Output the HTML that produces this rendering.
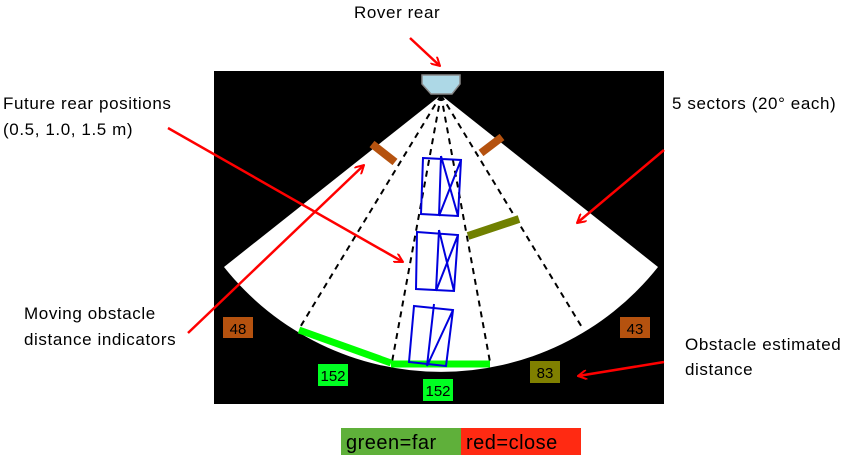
<!DOCTYPE html>
<html><head><style>
body{margin:0;background:#fff;}
svg{display:block;}
text{font-family:"Liberation Sans",sans-serif;font-size:17px;letter-spacing:0.6px;fill:#000;}
</style></head><body>
<svg width="855" height="467" viewBox="0 0 855 467">
<defs>
<marker id="ah" markerWidth="10" markerHeight="10" refX="9" refY="5" orient="auto" markerUnits="userSpaceOnUse">
<path d="M0,0 L9,5 L0,10" fill="none" stroke="#f00" stroke-width="2"/>
</marker>
</defs>
<rect x="214" y="71" width="450" height="333" fill="#000"/>
<path d="M441,95 L224,267 A277,277 0 0 0 658,267 Z" fill="#fff"/>
<g stroke="#000" stroke-width="2" stroke-dasharray="6,5" fill="none">
<line x1="441" y1="95" x2="299" y2="329"/>
<line x1="441" y1="95" x2="392" y2="362"/>
<line x1="441" y1="95" x2="490" y2="362"/>
<line x1="441" y1="95" x2="583" y2="329"/>
</g>
<path d="M422,75 L460,75 L460,84 L452,94 L431,94 L422,84 Z" fill="#add8e6" stroke="#888" stroke-width="1.5"/>
<line x1="299" y1="330" x2="391" y2="363" stroke="#00ff00" stroke-width="7"/>
<line x1="391" y1="364" x2="490" y2="364" stroke="#00ff00" stroke-width="7"/>
<line x1="372" y1="144" x2="395" y2="162" stroke="#b5520f" stroke-width="8"/>
<line x1="481" y1="153" x2="502" y2="137" stroke="#b5520f" stroke-width="8"/>
<line x1="468" y1="236" x2="519" y2="219" stroke="#708000" stroke-width="8"/>
<g stroke="#0000dd" stroke-width="2" fill="none">
<path d="M423,158 L461,160 L458,216 L421,214 Z M441,156 L439,216 M461,160 L439,216 M441,156 L458,216"/>
<path d="M417,232 L458,235 L454,291 L416,289 Z M439,230 L436,291 M458,235 L436,291 M439,230 L454,291"/>
<path d="M414,306 L453,310 L446,366 L409,362 Z M434,304 L427,366 M453,310 L427,366"/>
</g>
<g style="font-size:15px;letter-spacing:0">
<rect x="223" y="317" width="30" height="21" fill="#b5520f"/><text x="238" y="334" text-anchor="middle" style="font-size:15px;letter-spacing:0">48</text>
<rect x="620" y="317" width="30" height="21" fill="#b5520f"/><text x="635" y="334" text-anchor="middle" style="font-size:15px;letter-spacing:0">43</text>
<rect x="318" y="364" width="30" height="22" fill="#00ff22"/><text x="333" y="381" text-anchor="middle" style="font-size:15px;letter-spacing:0">152</text>
<rect x="423" y="379" width="30" height="22" fill="#00ff22"/><text x="438" y="396" text-anchor="middle" style="font-size:15px;letter-spacing:0">152</text>
<rect x="530" y="361" width="30" height="22" fill="#808000"/><text x="545" y="378" text-anchor="middle" style="font-size:15px;letter-spacing:0">83</text>
</g>
<g stroke="#f00" stroke-width="2.5" fill="none" marker-end="url(#ah)">
<line x1="410" y1="38" x2="440" y2="66"/>
<line x1="168" y1="128" x2="403" y2="262"/>
<line x1="188" y1="333" x2="364" y2="165"/>
<line x1="664" y1="150" x2="577" y2="223"/>
<line x1="664" y1="362" x2="578" y2="376"/>
</g>
<text x="354" y="18">Rover rear</text>
<text x="3" y="109">Future rear positions</text>
<text x="3" y="135">(0.5, 1.0, 1.5 m)</text>
<text x="672" y="109">5 sectors (20° each)</text>
<text x="24" y="319">Moving  obstacle</text>
<text x="24" y="345">distance indicators</text>
<text x="685" y="350">Obstacle estimated</text>
<text x="685" y="375">distance</text>
<rect x="341" y="428" width="120" height="27" fill="#5fb03a"/>
<rect x="461" y="428" width="120" height="27" fill="#ff2a12"/>
<text x="346" y="449" style="font-size:20px;letter-spacing:0.5px">green=far</text>
<text x="466" y="449" style="font-size:20px;letter-spacing:0.5px">red=close</text>
</svg>
</body></html>
